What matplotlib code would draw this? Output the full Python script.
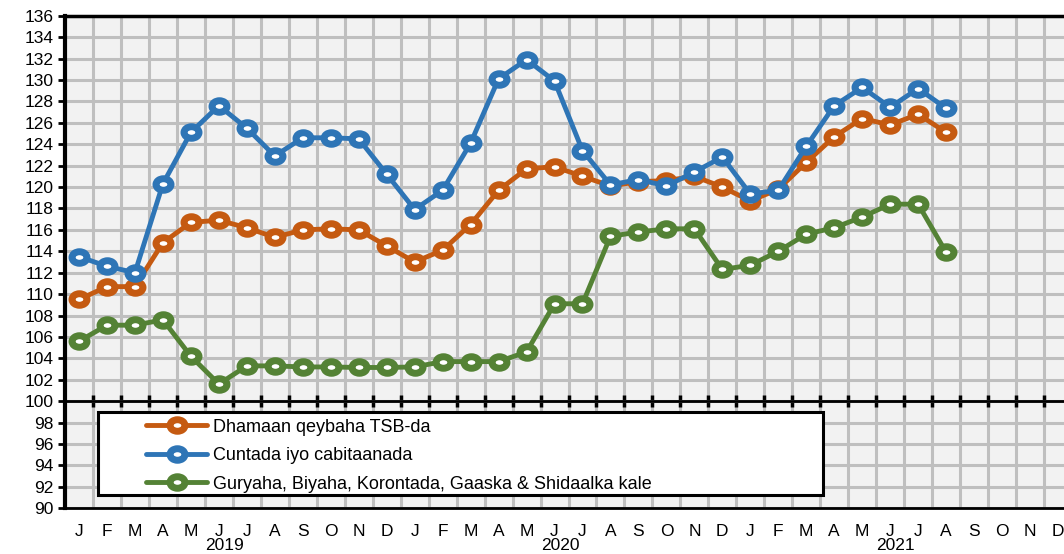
import numpy as np
import matplotlib.pyplot as plt
from matplotlib.path import Path
from matplotlib.patches import Rectangle

# Data #######################################################################

months = ['J', 'F', 'M', 'A', 'M', 'J', 'J', 'A', 'S', 'O', 'N', 'D'] * 3
years = ['2019', '2020', '2021']

labels = ['Dhamaan qeybaha TSB-da',
          'Cuntada iyo cabitaanada',
          'Guryaha, Biyaha, Korontada, Gaaska & Shidaalka kale']

# Jan 2019 .. Aug 2021
tsb_all = [109.5, 110.7, 110.7, 114.8, 116.7, 116.9, 116.2, 115.3, 116.0, 116.1, 116.0, 114.5,
           113.0, 114.1, 116.5, 119.7, 121.7, 121.9, 121.0, 120.1, 120.5, 120.6, 121.0, 120.0,
           118.7, 119.8, 122.3, 124.7, 126.4, 125.8, 126.8, 125.1]
food = [113.5, 112.6, 112.0, 120.3, 125.1, 127.6, 125.5, 122.9, 124.6, 124.6, 124.5, 121.2,
        117.9, 119.7, 124.1, 130.1, 131.9, 129.9, 123.4, 120.2, 120.7, 120.1, 121.4, 122.8,
        119.35, 119.7, 123.8, 127.6, 129.3, 127.45, 129.2, 127.35]
housing = [105.6, 107.1, 107.1, 107.6, 104.2, 101.6, 103.3, 103.3, 103.2, 103.2, 103.15, 103.15,
           103.2, 103.7, 103.7, 103.7, 104.6, 109.1, 109.1, 115.4, 115.8, 116.1, 116.1, 112.3,
           112.7, 114.0, 115.6, 116.2, 117.2, 118.4, 118.4, 113.9]

colors = ['#C55A11', '#2E75B6', '#548235']

# Plot #######################################################################

plt.rcParams['font.family'] = ['Liberation Sans', 'DejaVu Sans']

fig = plt.figure(figsize=(10.64, 5.54), dpi=100)
W, H = 1064.0, 554.0
ax = fig.add_axes([65 / W, 1 - 508.3 / H, (1072 - 65) / W, (508.3 - 15.7) / H])
ax.set_facecolor('#f2f2f2')

# slightly wide ring marker, like the stretched original
circ = Path.unit_circle()
ring = Path(circ.vertices * np.array([1.3, 1.0]), circ.codes)

x = np.arange(len(tsb_all))
for vals, col, lab in zip([tsb_all, food, housing], colors, labels):
    ax.plot(x, vals, color=col, lw=3.5, marker=ring, ms=10.8, mew=5,
            mfc='white', mec=col, label=lab, zorder=3, solid_capstyle='round')

ax.set_xlim(-0.5, 35.5)
ax.set_ylim(90, 136)
ax.set_yticks(np.arange(90, 137, 2))
ax.set_xticks(np.arange(0.5, 35, 1))
ax.grid(True, color='#bfbfbf', lw=2.2, zorder=0)
ax.set_axisbelow(True)

ax.spines['right'].set_visible(False)
ax.spines['left'].set_linewidth(3)
ax.spines['top'].set_linewidth(2.5)
ax.spines['bottom'].set_position(('data', 100))
ax.spines['bottom'].set_linewidth(2)
ax.axhline(90, color='black', lw=2, clip_on=False, zorder=4)

ax.tick_params(axis='y', length=5, width=2, pad=3, labelsize=12.5)
ax.tick_params(axis='x', direction='inout', length=8.5, width=2.5, labelbottom=False)

for i, m in enumerate(months):
    ax.annotate(m, xy=(i, 0), xycoords=('data', 'axes fraction'),
                xytext=(0, -16.8), textcoords='offset points',
                ha='center', va='center', fontsize=12.5)
# years kept just inside the bottom edge
for k, yr in enumerate(years):
    ax.annotate(yr, xy=(12 * k + 5.2, 0), xycoords=('data', 'axes fraction'),
                xytext=(0, -32.0), textcoords='offset points',
                ha='center', va='bottom', fontsize=12.5)

# legend box
fig.add_artist(Rectangle((98 / W, 1 - 495 / H), (823 - 98) / W, (495 - 412) / H,
                         transform=fig.transFigure, facecolor='white',
                         edgecolor='black', lw=2.2, zorder=4))
fig.legend(loc='upper left', bbox_to_anchor=(146 / W, 1 - 418.5 / H),
           frameon=False, borderpad=0, borderaxespad=0, handlelength=3.38,
           handletextpad=0.32, labelspacing=0.64, fontsize=13, numpoints=1)

plt.savefig('out.png', dpi=100)
